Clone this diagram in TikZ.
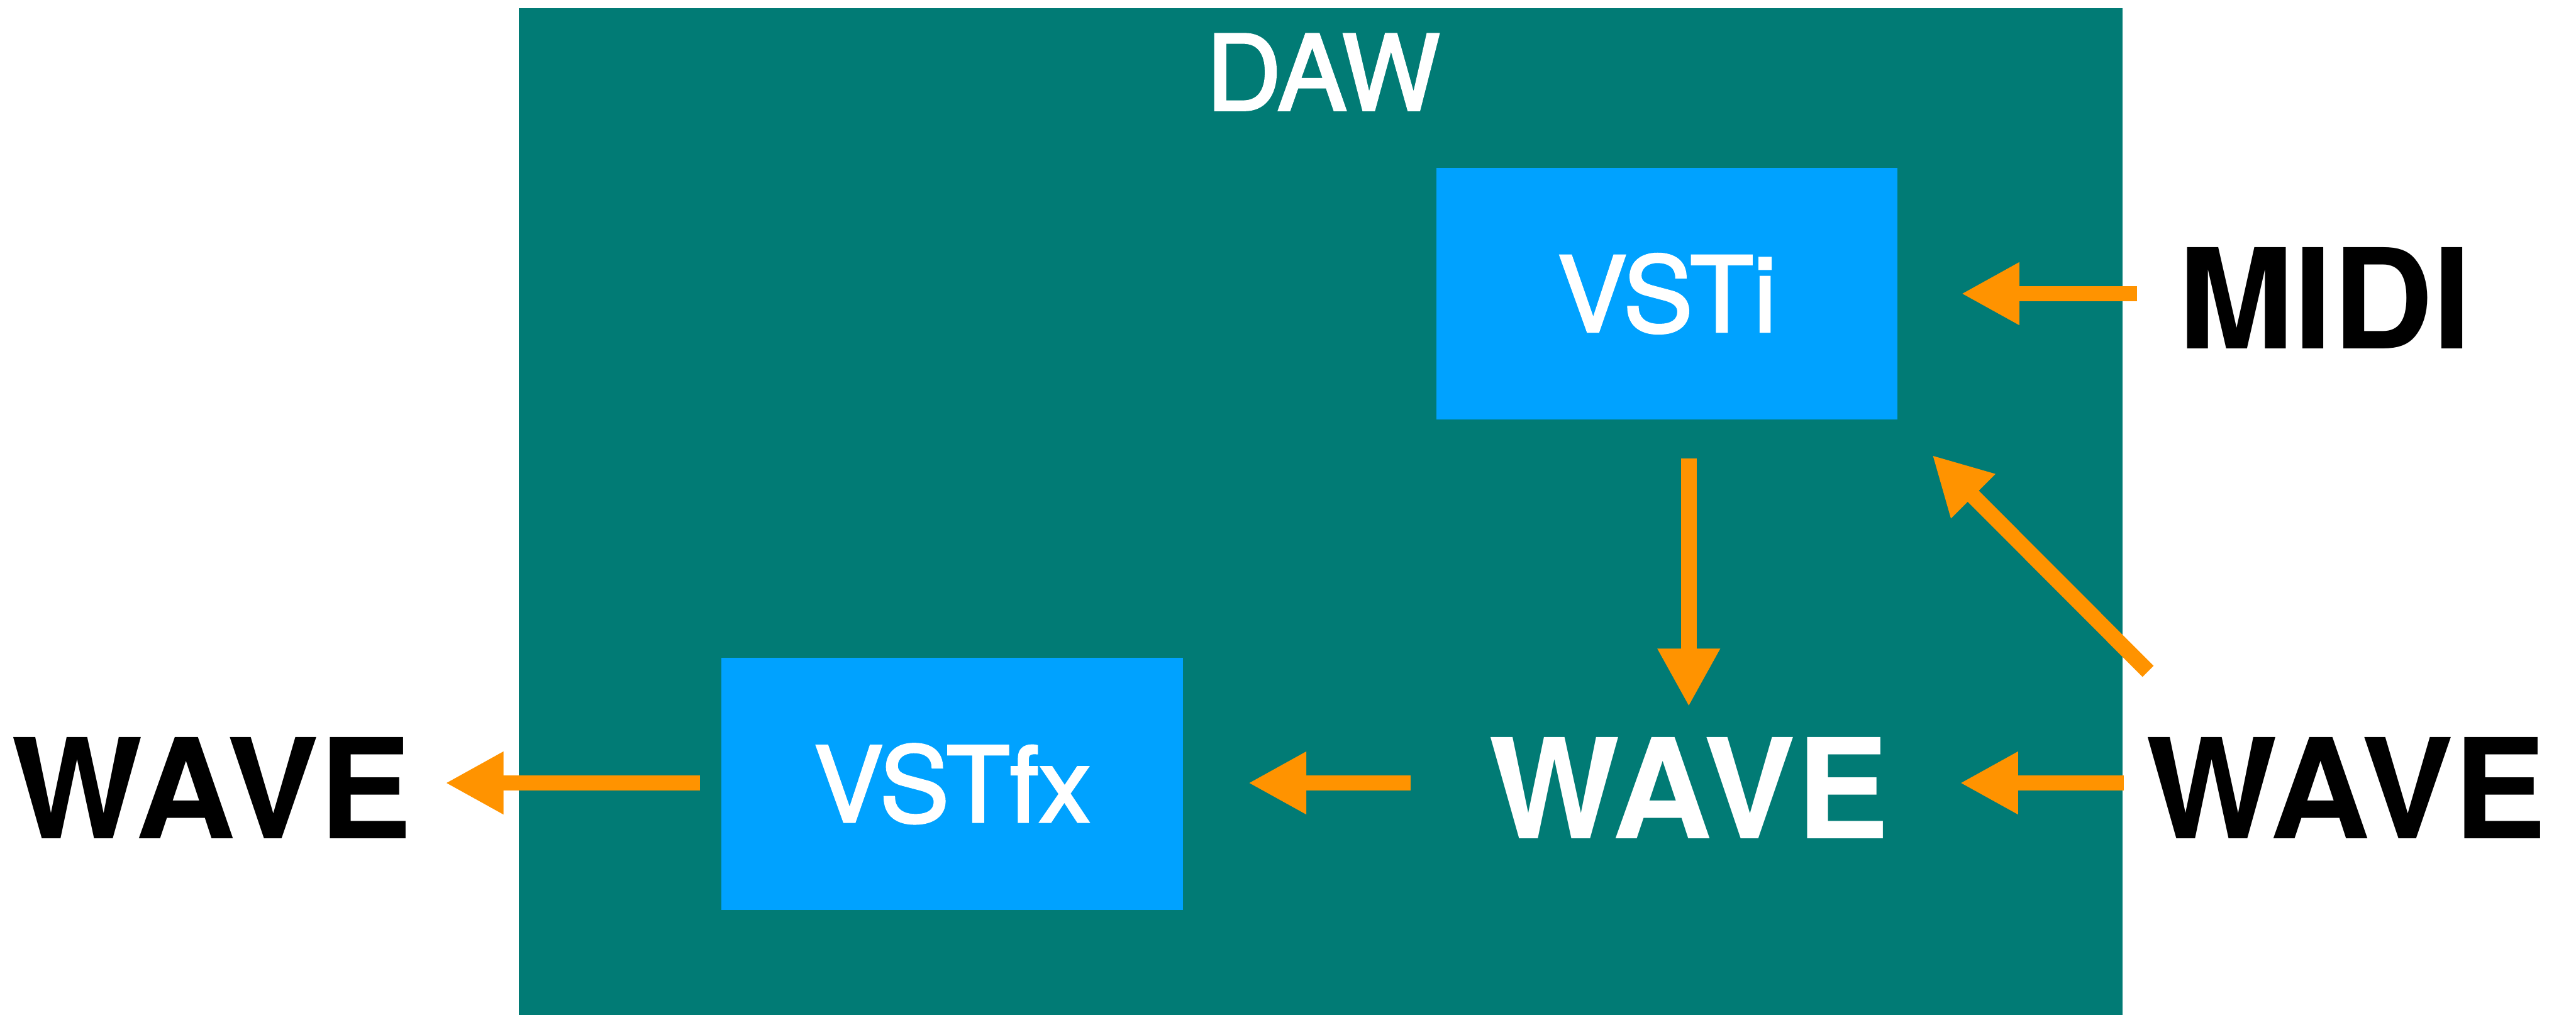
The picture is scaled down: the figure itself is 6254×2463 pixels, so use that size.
\documentclass[tikz,border=0pt]{standalone}
\usepackage{fontspec}
\setmainfont{TeX Gyre Heros}
\newfontfamily\labelfont[FakeBold=2.2]{TeX Gyre Heros}
\usetikzlibrary{arrows.meta,calc}
\definecolor{dawteal}{HTML}{017B75}
\definecolor{plugblue}{HTML}{00A2FF}
\definecolor{sigorange}{HTML}{FF9300}
\begin{document}
\begin{tikzpicture}[x=0.05mm,y=-0.05mm,
  host/.style={fill=dawteal, inner sep=0, minimum width=194.7mm, minimum height=122.2mm, anchor=north west},
  hostlabel/.style={inner sep=0, text=white, font=\labelfont\fontsize{36}{40}\selectfont},
  plug/.style={fill=plugblue, inner sep=0, minimum width=56mm, minimum height=30.6mm,
    text=white, font=\labelfont\fontsize{36}{40}\selectfont},
  sig/.style={inner sep=0, font=\fontsize{48}{52}\selectfont\bfseries},
  flow/.style={draw=sigorange, line width=1.9mm, -{Triangle[length=7.05mm,width=7.1mm]}}]
\useasboundingbox (0,0) rectangle (6254,2463);

% host application
\node[host] (daw) at (1258,19) {};
\node[hostlabel] (dawlabel) at (3212,175) {DAW};

% plug-ins
\node[plug] (vsti) at (4047,713) {VSTi};
\node[plug] (vstfx) at (2312,1903) {VSTfx};

% signals
\node[sig] (midi) at (5645,723) {MIDI};
\node[sig] (wl) at (514,1913) {WAVE};
\node[sig, text=white] (wm) at (4100,1913) {WAVE};
\node[sig] (wr) at (5696,1913) {WAVE};

% signal flow
\coordinate (lane) at (0,1901);
\coordinate (dtail) at (5215,1630);
\coordinate (dtip) at (4691,1105);

\draw[flow, shorten <=4.95mm, shorten >=7.65mm] (midi.west |- vsti.east) -- (vsti.east);
\draw[flow, shorten <=4.6mm, shorten >=3.65mm] (vsti.south -| wm.north) -- (wm.north);
\draw[flow] (dtail) -- (dtip);
\draw[flow, shorten <=2.65mm, shorten >=8.55mm] (wr.west |- lane) -- (wm.east |- lane);
\draw[flow, shorten <=9.4mm, shorten >=7.85mm] (wm.west |- lane) -- (vstfx.east |- lane);
\draw[flow, shorten <=2.55mm, shorten >=4mm] (vstfx.west |- lane) -- (wl.east |- lane);
\end{tikzpicture}
\end{document}
